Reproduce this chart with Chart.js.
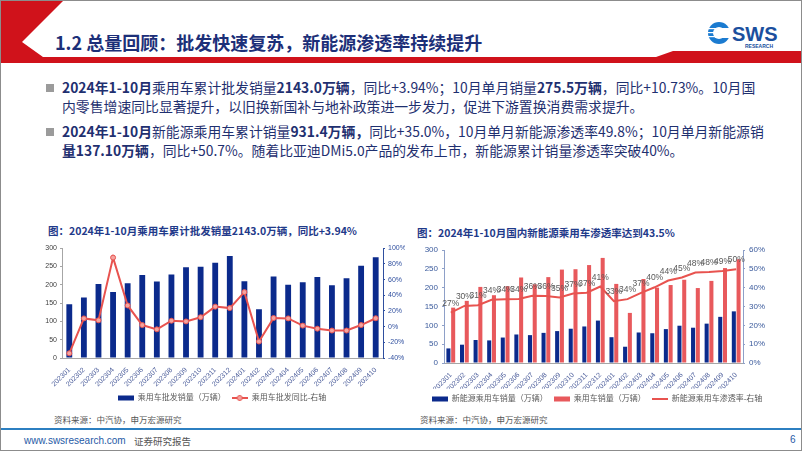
<!DOCTYPE html>
<html>
<head>
<meta charset="utf-8">
<script src="https://cdn.jsdelivr.net/npm/chart.js@4.4.1/dist/chart.umd.min.js"></script>
<style>
  body { margin: 0; width: 802px; height: 451px; overflow: hidden; background: #fff;
         font-family: 'Noto Sans CJK SC', sans-serif; }
  #slide { position: relative; width: 800px; height: 449px; border: 1px solid #8c8c8c; overflow: hidden; }
  .abs { position: absolute; white-space: nowrap; }
  .title { left: 54px; top: 28px; font-size: 18px; font-weight: 700; color: #1c2f78; }
  .para { left: 61px; font-size: 13.85px; line-height: 19px; color: #1f3070; }
  .para b { font-weight: 700; }
  .bullet { width: 8px; height: 8px; background: #9b9b9b; }
  .ctitle { font-size: 10.5px; font-weight: 700; color: #1f3a8a; }
  .src { font-size: 8.5px; color: #555; }
  canvas { position: absolute; }
</style>
</head>
<body>
<div id="slide">
  <svg class="abs" style="left:0;top:0" width="802" height="70">
    <polygon points="0,0 62,0 21,41 42,56 655,56 672,50 802,50 802,62 0,62" fill="#d0121b"/>
    <g transform="translate(718,32)">
      <circle r="11" fill="#1b7bd0"/>
      <circle r="6" fill="#fff"/>
      <rect x="3" y="-5" width="10" height="10" fill="#fff"/>
      <rect x="-11" y="-1" width="8" height="1.2" fill="#fff"/>
      <rect x="-11" y="3" width="8" height="1.2" fill="#fff"/>
      <rect x="-11" y="-5" width="8" height="1.2" fill="#fff"/>
    </g>
    <text x="731" y="40" font-family="Liberation Sans" font-weight="700" font-size="20" fill="#1b4f9e">SWS</text>
    <text x="744" y="47" font-family="Liberation Sans" font-weight="700" font-size="5" fill="#1b4f9e">RESEARCH</text>
  </svg>
  <div class="abs title">1.2 总量回顾：批发快速复苏，新能源渗透率持续提升</div>

  <div class="abs bullet" style="left:45px;top:83px"></div>
  <div class="abs para" style="top:77px"><b>2024年1-10月</b>乘用车累计批发销量<b>2143.0万辆</b>，同比+3.94%；10月单月销量<b>275.5万辆</b>，同比+10.73%。10月国<br>内零售增速同比显著提升，以旧换新国补与地补政策进一步发力，促进下游置换消费需求提升。</div>
  <div class="abs bullet" style="left:45px;top:127px"></div>
  <div class="abs para" style="top:121px"><b>2024年1-10月</b>新能源乘用车累计销量<b>931.4万辆，</b>同比+35.0%，10月单月新能源渗透率49.8%；10月单月新能源销<br><b>量137.10万辆</b>，同比+50.7%。随着比亚迪DMi5.0产品的发布上市，新能源累计销量渗透率突破40%。</div>

  <div class="abs ctitle" style="left:47px;top:222px">图：2024年1-10月乘用车累计批发销量2143.0万辆，同比+3.94%</div>
  <div class="abs ctitle" style="left:416px;top:224px">图：2024年1-10月国内新能源乘用车渗透率达到43.5%</div>

  <canvas id="leftChart" width="366" height="171" style="left:38px;top:240px"></canvas>
  <canvas id="rightChart" width="368" height="172" style="left:412px;top:240px"></canvas>

  <div class="abs src" style="left:53px;top:412px">资料来源：中汽协，申万宏源研究</div>
  <div class="abs src" style="left:419px;top:412px">资料来源：中汽协，申万宏源研究</div>

  <div class="abs" style="left:0;top:427px;width:802px;height:2px;background:#2c7fc1"></div>
  <div class="abs" style="left:23px;top:434px;font-family:'Liberation Sans';font-size:10px;color:#1f5aa6">www.swsresearch.com</div>
  <div class="abs" style="left:133px;top:433px;font-size:9.5px;color:#555">证券研究报告</div>
  <div class="abs" style="left:789px;top:433px;font-family:'Liberation Sans';font-size:10px;color:#1f5aa6">6</div>
</div>

<script>
// months on the x axis
const months = ['202301', '202302', '202303', '202304', '202305', '202306', '202307', '202308',
  '202309', '202310', '202311', '202312', '202401', '202402', '202403', '202404', '202405',
  '202406', '202407', '202408', '202409', '202410'];

// passenger car wholesale volume (10k units)
const wholesale = [147, 165, 202, 180, 204, 227, 209, 228, 248, 249, 260, 279,
  210, 133, 223, 200, 207, 221, 199, 218, 252, 275.5];

// wholesale yoy (%)
const wholesaleYoy = [-34, 10.5, 8, 88, 27, 2, -3.5, 7.5, 6.6, 12, 25.5, 23.6,
  44, -19, 11, 10.5, 1.3, -2.6, -5, -5, 2, 10.7];

// NEV passenger car sales (10k units)
const nevSales = [38.7, 48.6, 61, 60, 67.6, 75.7, 74, 80, 84.7, 91, 97, 112.6,
  68.5, 43.2, 81, 79, 90, 99, 93.7, 104.5, 122.5, 137.1];

// passenger car sales (10k units)
const carSales = [147, 165, 202, 180, 204, 227, 209, 228, 248, 249, 260, 279,
  210, 133, 223, 200, 207, 221, 199, 218, 252, 275.5];

// NEV penetration (%)
const penetration = [26.8, 30.3, 30.7, 33.6, 33.8, 34.0, 35.7, 35.6, 34.8, 36.9, 37.3, 40.6,
  32.8, 33.9, 37.2, 40.2, 43.8, 45.4, 48.0, 48.3, 48.8, 49.8];

const NAVY = '#0b2a8c';
const RED = '#e8534f';
const RED_BAR = '#e8595c';
const FONT = "'Liberation Sans', 'Noto Sans CJK SC', sans-serif";

function icon(kind, color) {
    const c = document.createElement('canvas');
    c.width = 16; c.height = 8;
    const g = c.getContext('2d');
    if (kind === 'bar') {
        g.fillStyle = color;
        g.fillRect(0, 1.5, 16, 5);
    } else {
        g.strokeStyle = color;
        g.lineWidth = 2;
        g.beginPath(); g.moveTo(0, 4); g.lineTo(16, 4); g.stroke();
        if (kind === 'dot') {
            g.fillStyle = '#f4a39f';
            g.lineWidth = 1;
            g.beginPath(); g.arc(8, 4, 2.5, 0, Math.PI * 2); g.fill(); g.stroke();
        }
    }
    return c;
}

function legendOpts(gap) {
    return {
        position: 'bottom',
        labels: {
            usePointStyle: true,
            pointStyleWidth: 16,
            padding: gap,
            color: '#595959',
            font: { size: 8, family: FONT },
            generateLabels: chart => chart.data.datasets.map((ds, i) => ({
                text: ds.label,
                pointStyle: ds.legendIcon,
                datasetIndex: i,
                hidden: false,
                fontColor: '#595959',
                lineWidth: 0,
                strokeStyle: 'transparent',
                fillStyle: 'transparent'
            }))
        }
    };
}

const tickFont = { size: 7, family: FONT };

// left chart: wholesale + yoy
new Chart(document.getElementById('leftChart'), {
    type: 'bar',
    data: {
        labels: months,
        datasets: [{
            label: '乘用车批发销量（万辆）',
            data: wholesale,
            backgroundColor: NAVY,
            yAxisID: 'y',
            barPercentage: 0.4,
            categoryPercentage: 1,
            order: 1,
            legendIcon: icon('bar', NAVY)
        }, {
            type: 'line',
            label: '乘用车批发同比-右轴',
            data: wholesaleYoy,
            borderColor: RED,
            borderWidth: 2,
            pointRadius: 2.5,
            pointBackgroundColor: '#f4a39f',
            pointBorderColor: RED,
            pointBorderWidth: 1,
            tension: 0,
            yAxisID: 'y1',
            order: 0,
            legendIcon: icon('dot', RED)
        }]
    },
    options: {
        responsive: false,
        animation: false,
        layout: { padding: { left: 0, right: 0, top: 7, bottom: 0 } },
        plugins: { legend: legendOpts(6), tooltip: { enabled: false } },
        scales: {
            x: {
                grid: { display: false },
                border: { color: '#a6a6a6' },
                ticks: { color: '#4a5c9a', font: tickFont, minRotation: 45, maxRotation: 45, padding: 0, autoSkip: false },
                afterFit: s => { s.height = 30; }
            },
            y: {
                min: 0, max: 300,
                ticks: { stepSize: 50, color: '#404040', font: tickFont, padding: 3 },
                grid: { drawOnChartArea: false, drawTicks: true, tickLength: 2, color: '#a6a6a6' },
                border: { color: '#a6a6a6' },
                afterFit: s => { s.width = 23; }
            },
            y1: {
                position: 'right',
                min: -40, max: 100,
                ticks: { stepSize: 20, color: '#2f4f9f', font: tickFont, padding: 3, callback: v => v + '%' },
                grid: { drawOnChartArea: false, drawTicks: true, tickLength: 2, color: '#2f4f9f' },
                border: { color: '#2f4f9f' },
                afterFit: s => { s.width = 22; }
            }
        }
    }
});

// percentage labels above the penetration line
const pctLabels = {
    id: 'pctLabels',
    afterDatasetsDraw(chart) {
        const meta = chart.getDatasetMeta(2);
        const ctx = chart.ctx;
        ctx.save();
        ctx.font = '8.5px ' + FONT;
        ctx.fillStyle = '#595959';
        ctx.textAlign = 'center';
        ctx.textBaseline = 'bottom';
        meta.data.forEach((pt, i) => {
            ctx.fillText(Math.round(penetration[i]) + '%', pt.x, pt.y - 5);
        });
        ctx.restore();
    }
};

// right chart: NEV sales, total sales, penetration
new Chart(document.getElementById('rightChart'), {
    type: 'bar',
    data: {
        labels: months,
        datasets: [{
            label: '新能源乘用车销量（万辆）',
            data: nevSales,
            backgroundColor: NAVY,
            yAxisID: 'y',
            barPercentage: 0.85,
            categoryPercentage: 0.7,
            order: 1,
            legendIcon: icon('bar', NAVY)
        }, {
            label: '乘用车销量（万辆）',
            data: carSales,
            backgroundColor: RED_BAR,
            yAxisID: 'y',
            barPercentage: 0.85,
            categoryPercentage: 0.7,
            order: 1,
            legendIcon: icon('bar', RED_BAR)
        }, {
            type: 'line',
            label: '新能源乘用车渗透率-右轴',
            data: penetration,
            borderColor: RED,
            borderWidth: 2,
            pointRadius: 0,
            tension: 0,
            yAxisID: 'y1',
            order: 0,
            legendIcon: icon('line', RED)
        }]
    },
    plugins: [pctLabels],
    options: {
        responsive: false,
        animation: false,
        layout: { padding: { left: 0, right: 0, top: 9, bottom: 0 } },
        plugins: { legend: legendOpts(6), tooltip: { enabled: false } },
        scales: {
            x: {
                grid: { display: false },
                border: { color: '#a6a6a6' },
                ticks: { color: '#4a5c9a', font: tickFont, minRotation: 45, maxRotation: 45, padding: 0, autoSkip: false },
                afterFit: s => { s.height = 26; }
            },
            y: {
                min: 0, max: 300,
                ticks: { stepSize: 50, color: '#3a5a9c', font: { size: 8, family: FONT }, padding: 4 },
                grid: { drawOnChartArea: false, drawTicks: true, tickLength: 2, color: '#8ea0c8' },
                border: { color: '#8ea0c8' },
                afterFit: s => { s.width = 31; }
            },
            y1: {
                position: 'right',
                min: 0, max: 60,
                ticks: { stepSize: 10, color: '#3a5a9c', font: { size: 8, family: FONT }, padding: 4, callback: v => v + '%' },
                grid: { drawOnChartArea: false, drawTicks: true, tickLength: 2, color: '#8ea0c8' },
                border: { color: '#8ea0c8' },
                afterFit: s => { s.width = 38; }
            }
        }
    }
});
</script>
</body>
</html>
